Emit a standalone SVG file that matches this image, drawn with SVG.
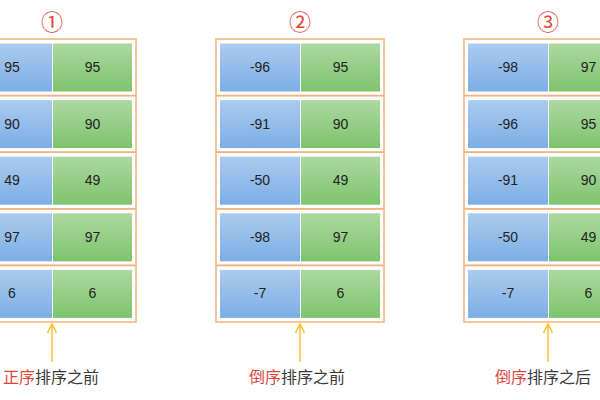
<svg xmlns="http://www.w3.org/2000/svg" width="600" height="400" viewBox="0 0 600 400">
<style>
.fr{fill:none;stroke:#f1b27e;stroke-width:1.5}
.b{fill:url(#gb)}
.g{fill:url(#gg)}
.n{font-family:"Liberation Sans",Arial,sans-serif;font-size:14px;fill:#222;text-anchor:middle}
.num{font-family:"Noto Sans CJK SC",sans-serif;font-size:22px;fill:#e0453a;text-anchor:middle}
.lb{font-family:"Noto Sans CJK SC",sans-serif;font-size:16px;fill:#3a3a3a;text-anchor:middle}
.red{fill:#e0453a}
.ar{fill:none;stroke:#f5c12e;stroke-width:1.5}
</style>
<defs>
<linearGradient id="gb" x1="0" y1="0" x2="0" y2="1"><stop offset="0" stop-color="#abcbef"/><stop offset="1" stop-color="#7caee4"/></linearGradient>
<linearGradient id="gg" x1="0" y1="0" x2="0" y2="1"><stop offset="0" stop-color="#acd8a0"/><stop offset="1" stop-color="#7ec46c"/></linearGradient>
<g id="row"><rect class="fr" x="0" y="0" width="168" height="56.6"/><rect class="b" x="4" y="4.5" width="80" height="48"/><rect class="g" x="85" y="4.5" width="79" height="48"/></g>
</defs>
<g id="titles">
<text class="num" x="52" y="30">①</text>
<text class="num" x="300" y="30">②</text>
<text class="num" x="548" y="30">③</text>
</g>
<g id="panel1">
<g id="p1r1"><use href="#row" x="-32" y="39"/><text class="n" x="12" y="72">95</text><text class="n" x="92.5" y="72">95</text></g>
<g id="p1r2"><use href="#row" x="-32" y="95.6"/><text class="n" x="12" y="128.6">90</text><text class="n" x="92.5" y="128.6">90</text></g>
<g id="p1r3"><use href="#row" x="-32" y="152.2"/><text class="n" x="12" y="185.2">49</text><text class="n" x="92.5" y="185.2">49</text></g>
<g id="p1r4"><use href="#row" x="-32" y="208.8"/><text class="n" x="12" y="241.8">97</text><text class="n" x="92.5" y="241.8">97</text></g>
<g id="p1r5"><use href="#row" x="-32" y="265.4"/><text class="n" x="12" y="298.4">6</text><text class="n" x="92.5" y="298.4">6</text></g>
</g>
<g id="panel2">
<g id="p2r1"><use href="#row" x="216" y="39"/><text class="n" x="260" y="72">-96</text><text class="n" x="340.5" y="72">95</text></g>
<g id="p2r2"><use href="#row" x="216" y="95.6"/><text class="n" x="260" y="128.6">-91</text><text class="n" x="340.5" y="128.6">90</text></g>
<g id="p2r3"><use href="#row" x="216" y="152.2"/><text class="n" x="260" y="185.2">-50</text><text class="n" x="340.5" y="185.2">49</text></g>
<g id="p2r4"><use href="#row" x="216" y="208.8"/><text class="n" x="260" y="241.8">-98</text><text class="n" x="340.5" y="241.8">97</text></g>
<g id="p2r5"><use href="#row" x="216" y="265.4"/><text class="n" x="260" y="298.4">-7</text><text class="n" x="340.5" y="298.4">6</text></g>
</g>
<g id="panel3">
<g id="p3r1"><use href="#row" x="464" y="39"/><text class="n" x="508" y="72">-98</text><text class="n" x="588.5" y="72">97</text></g>
<g id="p3r2"><use href="#row" x="464" y="95.6"/><text class="n" x="508" y="128.6">-96</text><text class="n" x="588.5" y="128.6">95</text></g>
<g id="p3r3"><use href="#row" x="464" y="152.2"/><text class="n" x="508" y="185.2">-91</text><text class="n" x="588.5" y="185.2">90</text></g>
<g id="p3r4"><use href="#row" x="464" y="208.8"/><text class="n" x="508" y="241.8">-50</text><text class="n" x="588.5" y="241.8">49</text></g>
<g id="p3r5"><use href="#row" x="464" y="265.4"/><text class="n" x="508" y="298.4">-7</text><text class="n" x="588.5" y="298.4">6</text></g>
</g>
<g id="connectors">
<path class="ar" d="M52 362V324M47.5 333L52 324L56.5 333"/>
<path class="ar" d="M300 362V324M295.5 333L300 324L304.5 333"/>
<path class="ar" d="M548 362V324M543.5 333L548 324L552.5 333"/>
</g>
<g id="labels">
<text class="lb" x="51" y="383"><tspan class="red">正序</tspan>排序之前</text>
<text class="lb" x="297" y="383"><tspan class="red">倒序</tspan>排序之前</text>
<text class="lb" x="543" y="383"><tspan class="red">倒序</tspan>排序之后</text>
</g>
</svg>
